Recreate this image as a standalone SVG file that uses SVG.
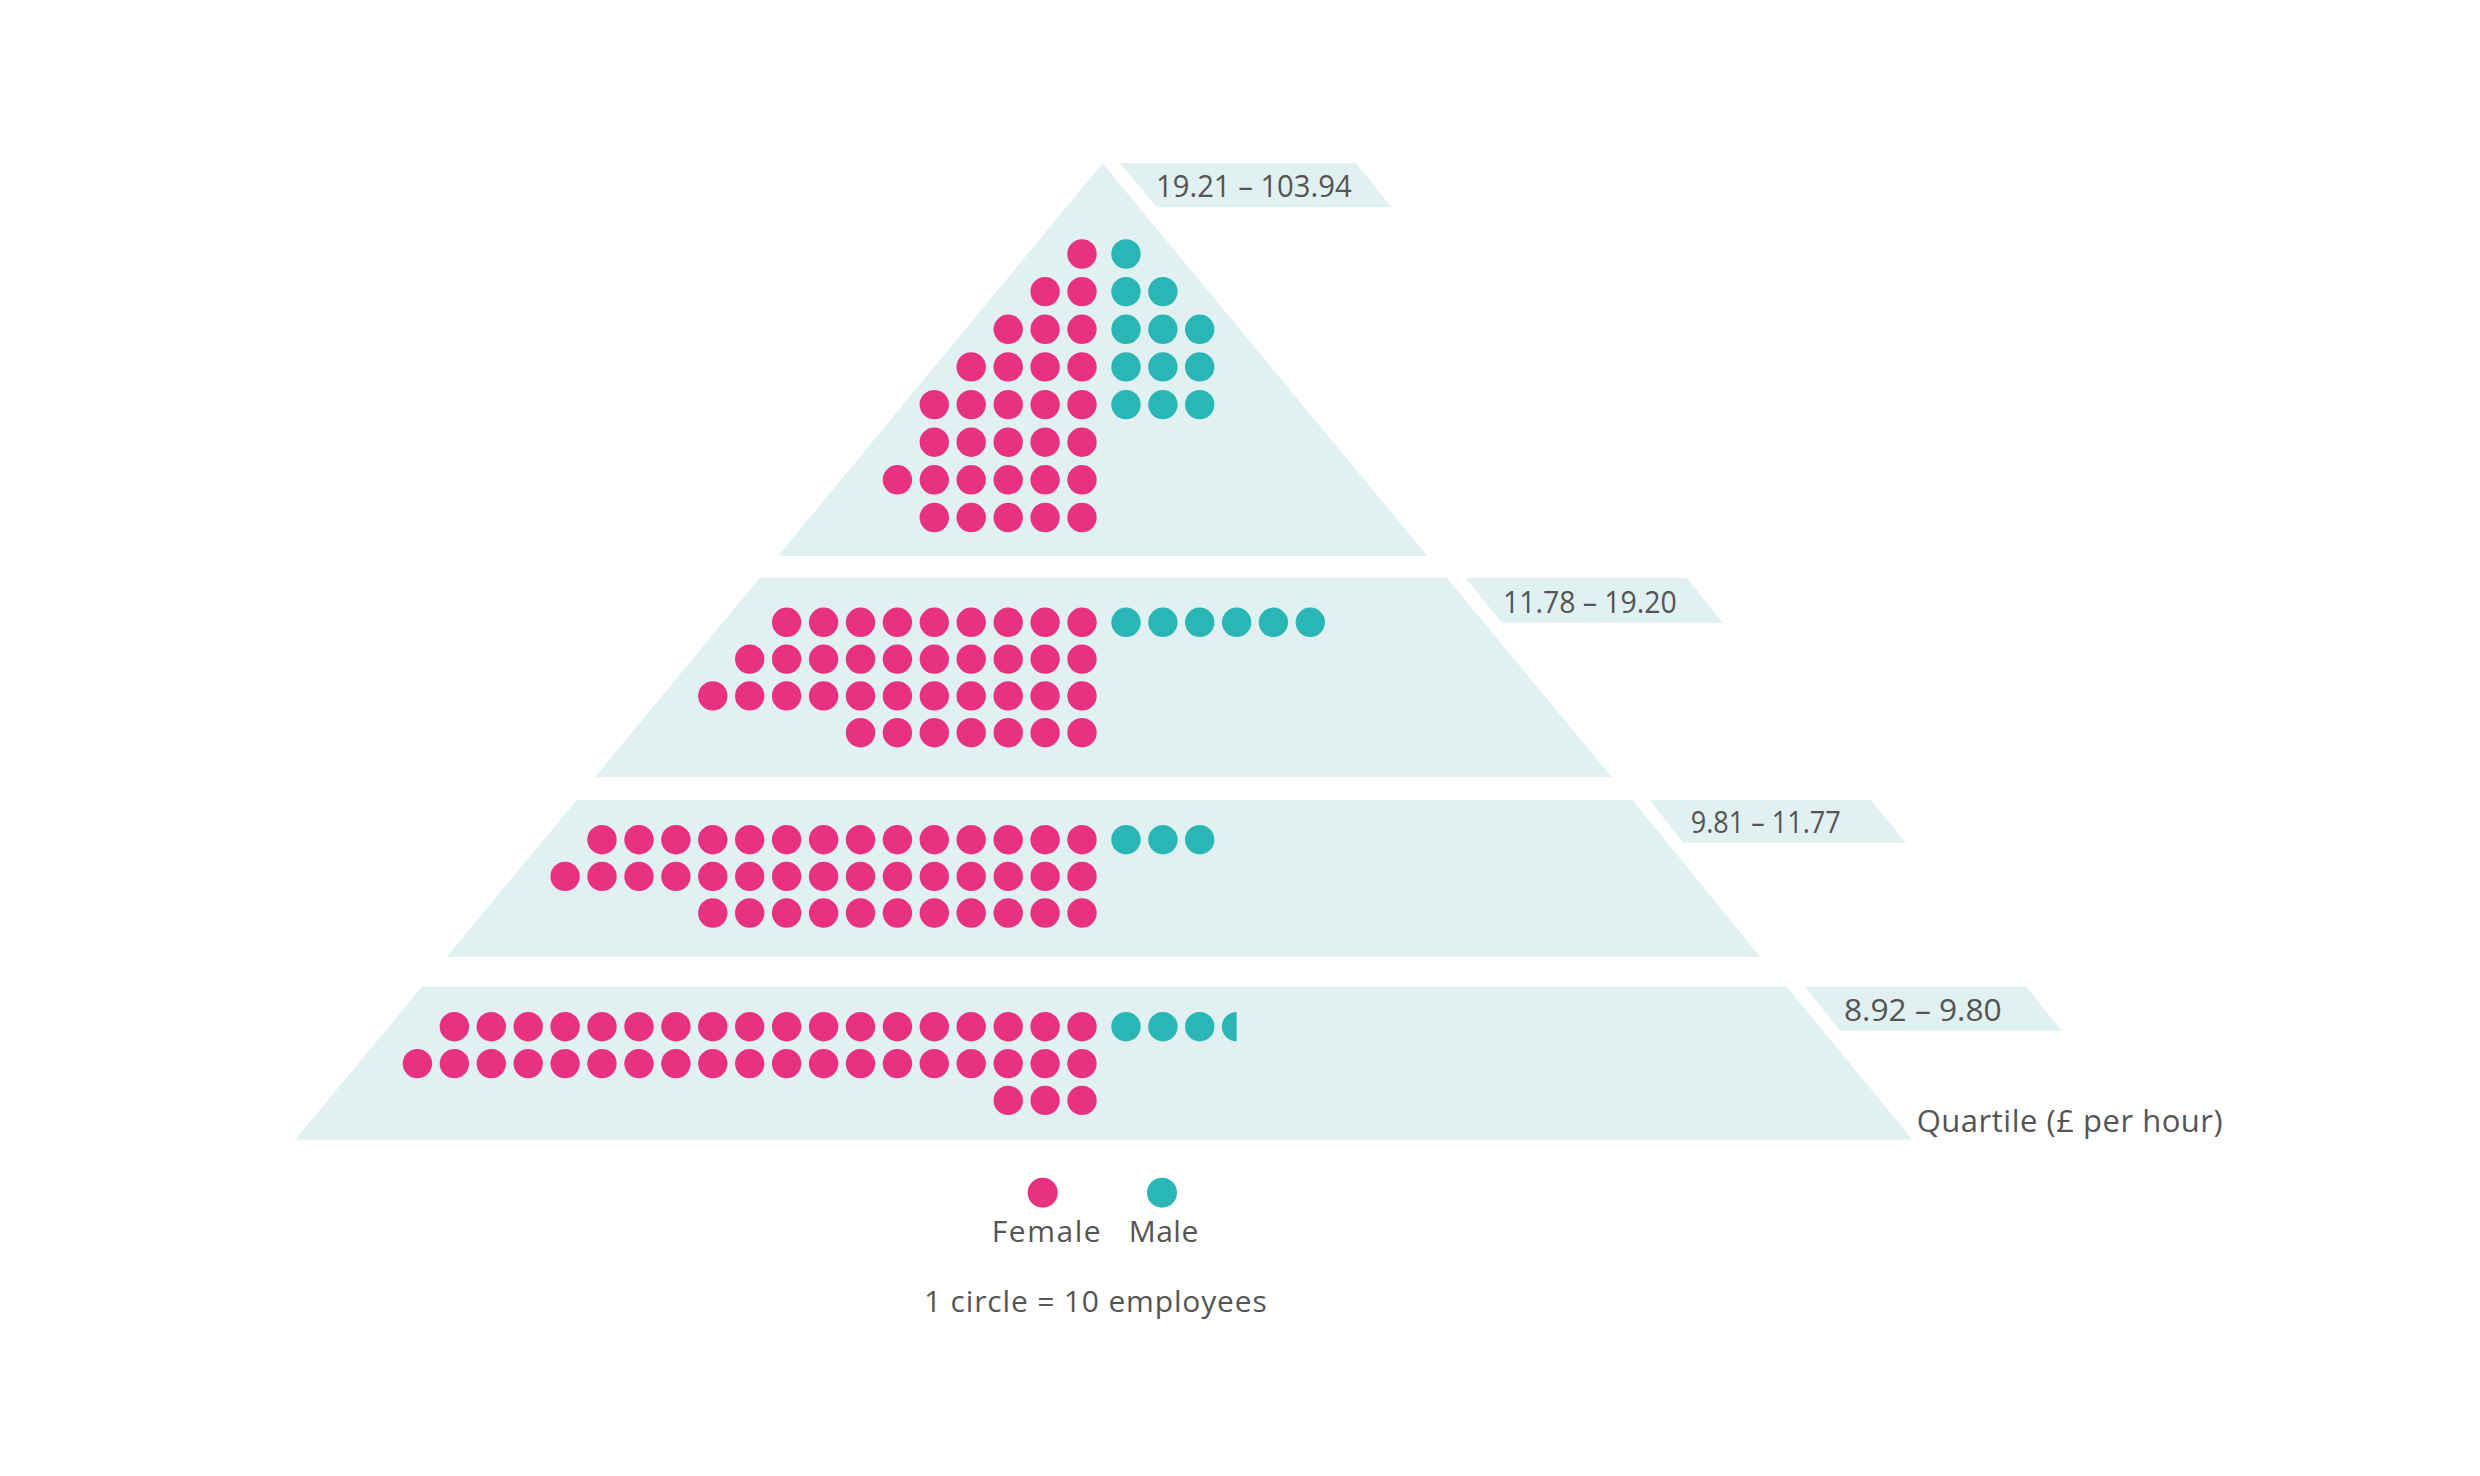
<svg xmlns="http://www.w3.org/2000/svg" width="2480" height="1476" viewBox="0 0 2480 1476">
<style>
.band{fill:#e1f1f1}
.tag{fill:#e1f1f1}
.f{fill:#e93182}
.m{fill:#2bb6b6}
.lbl{font-family:"Open Sans","Noto Sans","Liberation Sans",sans-serif;font-size:31px;fill:#555555}
.leg{font-family:"Open Sans","Noto Sans","Liberation Sans",sans-serif;font-size:30px;fill:#555555}
</style>
<rect width="2480" height="1476" fill="#ffffff"/>

<g id="q4-top">
<polygon class="band" points="1102.5,163.3 1427.5,556 778,556"/>
<polygon class="tag" points="1120,163.3 1356,163.3 1391.8,207.3 1156.7,207.3"/>
<text class="lbl" x="1156" y="196.7" textLength="195.7" lengthAdjust="spacingAndGlyphs">19.21 – 103.94</text>
<g class="f">
<circle cx="1082" cy="254" r="14.7"/>
<circle cx="1082" cy="291.6" r="14.7"/><circle cx="1045.1" cy="291.6" r="14.7"/>
<circle cx="1082" cy="329.3" r="14.7"/><circle cx="1045.1" cy="329.3" r="14.7"/><circle cx="1008.2" cy="329.3" r="14.7"/>
<circle cx="1082" cy="366.9" r="14.7"/><circle cx="1045.1" cy="366.9" r="14.7"/><circle cx="1008.2" cy="366.9" r="14.7"/><circle cx="971.2" cy="366.9" r="14.7"/>
<circle cx="1082" cy="404.6" r="14.7"/><circle cx="1045.1" cy="404.6" r="14.7"/><circle cx="1008.2" cy="404.6" r="14.7"/><circle cx="971.2" cy="404.6" r="14.7"/><circle cx="934.3" cy="404.6" r="14.7"/>
<circle cx="1082" cy="442.2" r="14.7"/><circle cx="1045.1" cy="442.2" r="14.7"/><circle cx="1008.2" cy="442.2" r="14.7"/><circle cx="971.2" cy="442.2" r="14.7"/><circle cx="934.3" cy="442.2" r="14.7"/>
<circle cx="1082" cy="479.8" r="14.7"/><circle cx="1045.1" cy="479.8" r="14.7"/><circle cx="1008.2" cy="479.8" r="14.7"/><circle cx="971.2" cy="479.8" r="14.7"/><circle cx="934.3" cy="479.8" r="14.7"/><circle cx="897.4" cy="479.8" r="14.7"/>
<circle cx="1082" cy="517.5" r="14.7"/><circle cx="1045.1" cy="517.5" r="14.7"/><circle cx="1008.2" cy="517.5" r="14.7"/><circle cx="971.2" cy="517.5" r="14.7"/><circle cx="934.3" cy="517.5" r="14.7"/>
</g>
<g class="m">
<circle cx="1126" cy="254" r="14.7"/>
<circle cx="1126" cy="291.6" r="14.7"/><circle cx="1162.9" cy="291.6" r="14.7"/>
<circle cx="1126" cy="329.3" r="14.7"/><circle cx="1162.9" cy="329.3" r="14.7"/><circle cx="1199.7" cy="329.3" r="14.7"/>
<circle cx="1126" cy="366.9" r="14.7"/><circle cx="1162.9" cy="366.9" r="14.7"/><circle cx="1199.7" cy="366.9" r="14.7"/>
<circle cx="1126" cy="404.6" r="14.7"/><circle cx="1162.9" cy="404.6" r="14.7"/><circle cx="1199.7" cy="404.6" r="14.7"/>
</g>
</g>

<g id="q3-upper-middle">
<polygon class="band" points="759.3,578.3 1447.3,578.3 1611.7,777 595,777"/>
<polygon class="tag" points="1465.7,578.3 1687.3,578.3 1722.7,622.7 1501.7,622.7"/>
<text class="lbl" x="1503" y="613.3" textLength="173.7" lengthAdjust="spacingAndGlyphs">11.78 – 19.20</text>
<g class="f">
<circle cx="1082" cy="622.3" r="14.7"/><circle cx="1045.1" cy="622.3" r="14.7"/><circle cx="1008.2" cy="622.3" r="14.7"/><circle cx="971.2" cy="622.3" r="14.7"/><circle cx="934.3" cy="622.3" r="14.7"/><circle cx="897.4" cy="622.3" r="14.7"/><circle cx="860.5" cy="622.3" r="14.7"/><circle cx="823.6" cy="622.3" r="14.7"/><circle cx="786.6" cy="622.3" r="14.7"/>
<circle cx="1082" cy="659.1" r="14.7"/><circle cx="1045.1" cy="659.1" r="14.7"/><circle cx="1008.2" cy="659.1" r="14.7"/><circle cx="971.2" cy="659.1" r="14.7"/><circle cx="934.3" cy="659.1" r="14.7"/><circle cx="897.4" cy="659.1" r="14.7"/><circle cx="860.5" cy="659.1" r="14.7"/><circle cx="823.6" cy="659.1" r="14.7"/><circle cx="786.6" cy="659.1" r="14.7"/><circle cx="749.7" cy="659.1" r="14.7"/>
<circle cx="1082" cy="695.9" r="14.7"/><circle cx="1045.1" cy="695.9" r="14.7"/><circle cx="1008.2" cy="695.9" r="14.7"/><circle cx="971.2" cy="695.9" r="14.7"/><circle cx="934.3" cy="695.9" r="14.7"/><circle cx="897.4" cy="695.9" r="14.7"/><circle cx="860.5" cy="695.9" r="14.7"/><circle cx="823.6" cy="695.9" r="14.7"/><circle cx="786.6" cy="695.9" r="14.7"/><circle cx="749.7" cy="695.9" r="14.7"/><circle cx="712.8" cy="695.9" r="14.7"/>
<circle cx="1082" cy="732.7" r="14.7"/><circle cx="1045.1" cy="732.7" r="14.7"/><circle cx="1008.2" cy="732.7" r="14.7"/><circle cx="971.2" cy="732.7" r="14.7"/><circle cx="934.3" cy="732.7" r="14.7"/><circle cx="897.4" cy="732.7" r="14.7"/><circle cx="860.5" cy="732.7" r="14.7"/>
</g>
<g class="m">
<circle cx="1126" cy="622.3" r="14.7"/><circle cx="1162.9" cy="622.3" r="14.7"/><circle cx="1199.7" cy="622.3" r="14.7"/><circle cx="1236.6" cy="622.3" r="14.7"/><circle cx="1273.4" cy="622.3" r="14.7"/><circle cx="1310.3" cy="622.3" r="14.7"/>
</g>
</g>

<g id="q2-lower-middle">
<polygon class="band" points="576.7,800 1632.5,800 1760,956.7 446.7,956.7"/>
<polygon class="tag" points="1649.3,800 1870.7,800 1906,842.7 1683.3,842.7"/>
<text class="lbl" x="1690.7" y="832.7" textLength="150" lengthAdjust="spacingAndGlyphs">9.81 – 11.77</text>
<g class="f">
<circle cx="1082" cy="839.7" r="14.7"/><circle cx="1045.1" cy="839.7" r="14.7"/><circle cx="1008.2" cy="839.7" r="14.7"/><circle cx="971.2" cy="839.7" r="14.7"/><circle cx="934.3" cy="839.7" r="14.7"/><circle cx="897.4" cy="839.7" r="14.7"/><circle cx="860.5" cy="839.7" r="14.7"/><circle cx="823.6" cy="839.7" r="14.7"/><circle cx="786.6" cy="839.7" r="14.7"/><circle cx="749.7" cy="839.7" r="14.7"/><circle cx="712.8" cy="839.7" r="14.7"/><circle cx="675.9" cy="839.7" r="14.7"/><circle cx="639" cy="839.7" r="14.7"/><circle cx="602" cy="839.7" r="14.7"/>
<circle cx="1082" cy="876.4" r="14.7"/><circle cx="1045.1" cy="876.4" r="14.7"/><circle cx="1008.2" cy="876.4" r="14.7"/><circle cx="971.2" cy="876.4" r="14.7"/><circle cx="934.3" cy="876.4" r="14.7"/><circle cx="897.4" cy="876.4" r="14.7"/><circle cx="860.5" cy="876.4" r="14.7"/><circle cx="823.6" cy="876.4" r="14.7"/><circle cx="786.6" cy="876.4" r="14.7"/><circle cx="749.7" cy="876.4" r="14.7"/><circle cx="712.8" cy="876.4" r="14.7"/><circle cx="675.9" cy="876.4" r="14.7"/><circle cx="639" cy="876.4" r="14.7"/><circle cx="602" cy="876.4" r="14.7"/><circle cx="565.1" cy="876.4" r="14.7"/>
<circle cx="1082" cy="913" r="14.7"/><circle cx="1045.1" cy="913" r="14.7"/><circle cx="1008.2" cy="913" r="14.7"/><circle cx="971.2" cy="913" r="14.7"/><circle cx="934.3" cy="913" r="14.7"/><circle cx="897.4" cy="913" r="14.7"/><circle cx="860.5" cy="913" r="14.7"/><circle cx="823.6" cy="913" r="14.7"/><circle cx="786.6" cy="913" r="14.7"/><circle cx="749.7" cy="913" r="14.7"/><circle cx="712.8" cy="913" r="14.7"/>
</g>
<g class="m">
<circle cx="1126" cy="839.7" r="14.7"/><circle cx="1162.9" cy="839.7" r="14.7"/><circle cx="1199.7" cy="839.7" r="14.7"/>
</g>
</g>

<g id="q1-lower">
<polygon class="band" points="422,986.7 1786.7,986.7 1912.7,1139.7 295,1139.7"/>
<polygon class="tag" points="1805,986.7 2026,986.7 2061.7,1030.7 1840,1030.7"/>
<text class="lbl" x="1844" y="1021" textLength="157.7" lengthAdjust="spacingAndGlyphs">8.92 – 9.80</text>
<g class="f">
<circle cx="1082" cy="1026.7" r="14.7"/><circle cx="1045.1" cy="1026.7" r="14.7"/><circle cx="1008.2" cy="1026.7" r="14.7"/><circle cx="971.2" cy="1026.7" r="14.7"/><circle cx="934.3" cy="1026.7" r="14.7"/><circle cx="897.4" cy="1026.7" r="14.7"/><circle cx="860.5" cy="1026.7" r="14.7"/><circle cx="823.6" cy="1026.7" r="14.7"/><circle cx="786.6" cy="1026.7" r="14.7"/><circle cx="749.7" cy="1026.7" r="14.7"/><circle cx="712.8" cy="1026.7" r="14.7"/><circle cx="675.9" cy="1026.7" r="14.7"/><circle cx="639" cy="1026.7" r="14.7"/><circle cx="602" cy="1026.7" r="14.7"/><circle cx="565.1" cy="1026.7" r="14.7"/><circle cx="528.2" cy="1026.7" r="14.7"/><circle cx="491.3" cy="1026.7" r="14.7"/><circle cx="454.4" cy="1026.7" r="14.7"/>
<circle cx="1082" cy="1063.6" r="14.7"/><circle cx="1045.1" cy="1063.6" r="14.7"/><circle cx="1008.2" cy="1063.6" r="14.7"/><circle cx="971.2" cy="1063.6" r="14.7"/><circle cx="934.3" cy="1063.6" r="14.7"/><circle cx="897.4" cy="1063.6" r="14.7"/><circle cx="860.5" cy="1063.6" r="14.7"/><circle cx="823.6" cy="1063.6" r="14.7"/><circle cx="786.6" cy="1063.6" r="14.7"/><circle cx="749.7" cy="1063.6" r="14.7"/><circle cx="712.8" cy="1063.6" r="14.7"/><circle cx="675.9" cy="1063.6" r="14.7"/><circle cx="639" cy="1063.6" r="14.7"/><circle cx="602" cy="1063.6" r="14.7"/><circle cx="565.1" cy="1063.6" r="14.7"/><circle cx="528.2" cy="1063.6" r="14.7"/><circle cx="491.3" cy="1063.6" r="14.7"/><circle cx="454.4" cy="1063.6" r="14.7"/><circle cx="417.4" cy="1063.6" r="14.7"/>
<circle cx="1082" cy="1100.4" r="14.7"/><circle cx="1045.1" cy="1100.4" r="14.7"/><circle cx="1008.2" cy="1100.4" r="14.7"/>
</g>
<g class="m">
<circle cx="1126" cy="1026.7" r="14.7"/><circle cx="1162.9" cy="1026.7" r="14.7"/><circle cx="1199.7" cy="1026.7" r="14.7"/>
<path d="M1236.6,1012 A14.7,14.7 0 0 0 1236.6,1041.4 Z"/>
</g>
<text class="lbl" x="1916.7" y="1131.7" textLength="306">Quartile (£ per hour)</text>
</g>

<g id="legend">
<circle class="f" cx="1042.7" cy="1192.7" r="15"/>
<circle class="m" cx="1162" cy="1192.7" r="15"/>
<text class="leg" x="991.7" y="1242.3" textLength="109">Female</text>
<text class="leg" x="1128.7" y="1242.3" textLength="69.6">Male</text>
<text class="leg" x="924" y="1311.7" textLength="342.7">1 circle = 10 employees</text>
</g>
<g id="connectors"/>
</svg>
